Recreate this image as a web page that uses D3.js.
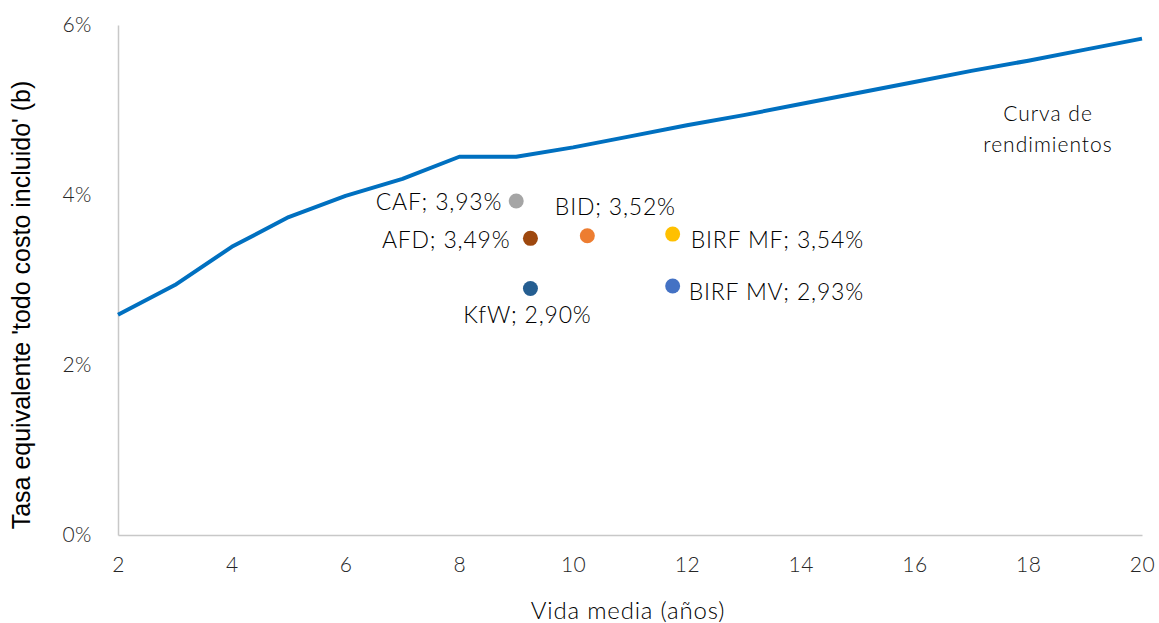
<html>
  <head>
    <meta charset="utf-8">
    <script src="https://cdnjs.cloudflare.com/ajax/libs/d3/7.8.5/d3.min.js"></script>
    <style>
      body { margin: 0; background: #fff; }
      svg text { font-family: Lato, "Open Sans", sans-serif; font-weight: 300; }
    </style>
  </head>
  <body>
    <svg id="chart" width="1159" height="623"></svg>
    <script>
      // yield curve (vida media in years, rate in %)
      const curveYears = [2, 3, 4, 5, 6, 7, 8, 9, 10, 11, 12, 13, 14, 15, 16, 17, 18, 19, 20];
      const curveRates = [2.59, 2.94, 3.39, 3.74, 3.99, 4.19, 4.45, 4.45, 4.56, 4.69, 4.82, 4.94, 5.07, 5.20, 5.33, 5.46, 5.58, 5.71, 5.84];

      // lenders
      const lenders = ["CAF", "AFD", "BID", "BIRF MF", "KfW", "BIRF MV"];
      const lenderLife = [9.0, 9.25, 10.25, 11.75, 9.25, 11.75];
      const lenderRate = [3.93, 3.49, 3.52, 3.54, 2.90, 2.93];
      const lenderColor = ["#a5a5a5", "#9e480e", "#ed7d31", "#ffc000", "#255e91", "#4472c4"];

      const xTicks = [2, 4, 6, 8, 10, 12, 14, 16, 18, 20];
      const yTicks = [0, 2, 4, 6];

      // where each label sits relative to its dot
      const labelPlace = {
        "CAF":     { dx: -14, dy: 1,  anchor: "end" },
        "AFD":     { dx: -20, dy: 2,  anchor: "end" },
        "BID":     { dx: 28,  dy: -29, anchor: "middle" },
        "BIRF MF": { dx: 18,  dy: 6,  anchor: "start" },
        "KfW":     { dx: -3,  dy: 26, anchor: "middle" },
        "BIRF MV": { dx: 16,  dy: 6,  anchor: "start" }
      };

      const svg = d3.select("#chart");
      const plotLeft = 118, plotRight = 1142, plotTop = 25, plotBottom = 535;

      const x = d3.scaleLinear().domain([2, 20]).range([plotLeft, plotRight]);
      const y = d3.scaleLinear().domain([0, 6]).range([plotBottom, plotTop]);

      const fmt = v => v.toFixed(2).replace(".", ",") + "%";

      // axes
      const xAxis = svg.append("g")
        .attr("transform", "translate(0," + plotBottom + ")")
        .call(d3.axisBottom(x).tickValues(xTicks).tickSize(0).tickPadding(30));
      const yAxis = svg.append("g")
        .attr("transform", "translate(" + plotLeft + ",0)")
        .call(d3.axisLeft(y).tickValues(yTicks).tickSize(0).tickPadding(26).tickFormat(d => d + "%"));

      [xAxis, yAxis].forEach(g => {
        g.select(".domain").attr("stroke", "#c8c8c8").attr("stroke-width", 1.5);
        g.selectAll("text")
          .attr("fill", "#262626")
          .style("font-size", "21px")
          .style("letter-spacing", "0.5px")
          .style("font-family", "Lato, sans-serif");
      });
      xAxis.selectAll("text").attr("dy", "0.32em");

      // curve
      const line = d3.line()
        .x((d, i) => x(curveYears[i]))
        .y(d => y(d));
      svg.append("path")
        .datum(curveRates)
        .attr("d", line)
        .attr("fill", "none")
        .attr("stroke", "#0070c0")
        .attr("stroke-width", 4)
        .attr("stroke-linejoin", "round");

      svg.append("text")
        .attr("x", 1048).attr("y", 121)
        .attr("text-anchor", "middle")
        .attr("fill", "#000")
        .style("font-size", "21px")
        .style("letter-spacing", "1px")
        .selectAll("tspan")
        .data(["Curva de", "rendimientos"])
        .enter().append("tspan")
        .attr("x", 1048)
        .attr("dy", (d, i) => i ? 31 : 0)
        .text(d => d);

      // lender dots
      svg.selectAll("circle.lender")
        .data(lenders)
        .enter()
        .append("circle")
        .attr("class", "lender")
        .attr("cx", (d, i) => x(lenderLife[i]))
        .attr("cy", (d, i) => y(lenderRate[i]))
        .attr("r", 7.5)
        .attr("fill", (d, i) => lenderColor[i]);

      svg.selectAll("text.lender")
        .data(lenders)
        .enter()
        .append("text")
        .attr("class", "lender")
        .attr("x", (d, i) => x(lenderLife[i]) + labelPlace[d].dx)
        .attr("y", (d, i) => y(lenderRate[i]) + labelPlace[d].dy)
        .attr("dy", "0.35em")
        .attr("text-anchor", d => labelPlace[d].anchor)
        .attr("fill", "#000")
        .style("font-size", "23px")
        .style("letter-spacing", "0.8px")
        .text((d, i) => d + "; " + fmt(lenderRate[i]));

      // axis titles
      svg.append("text")
        .attr("x", 628).attr("y", 619)
        .attr("text-anchor", "middle")
        .attr("fill", "#000")
        .style("font-size", "24px")
        .style("letter-spacing", "0.8px")
        .text("Vida media (años)");

      svg.append("text")
        .attr("transform", "translate(30,305) rotate(-90)")
        .attr("text-anchor", "middle")
        .attr("fill", "#000")
        .style("font-family", "'Liberation Sans', Arial, sans-serif")
        .style("font-weight", 400)
        .style("font-size", "25px")
        .text("Tasa equivalente 'todo costo incluido' (b)");
    </script>
  </body>
</html>
